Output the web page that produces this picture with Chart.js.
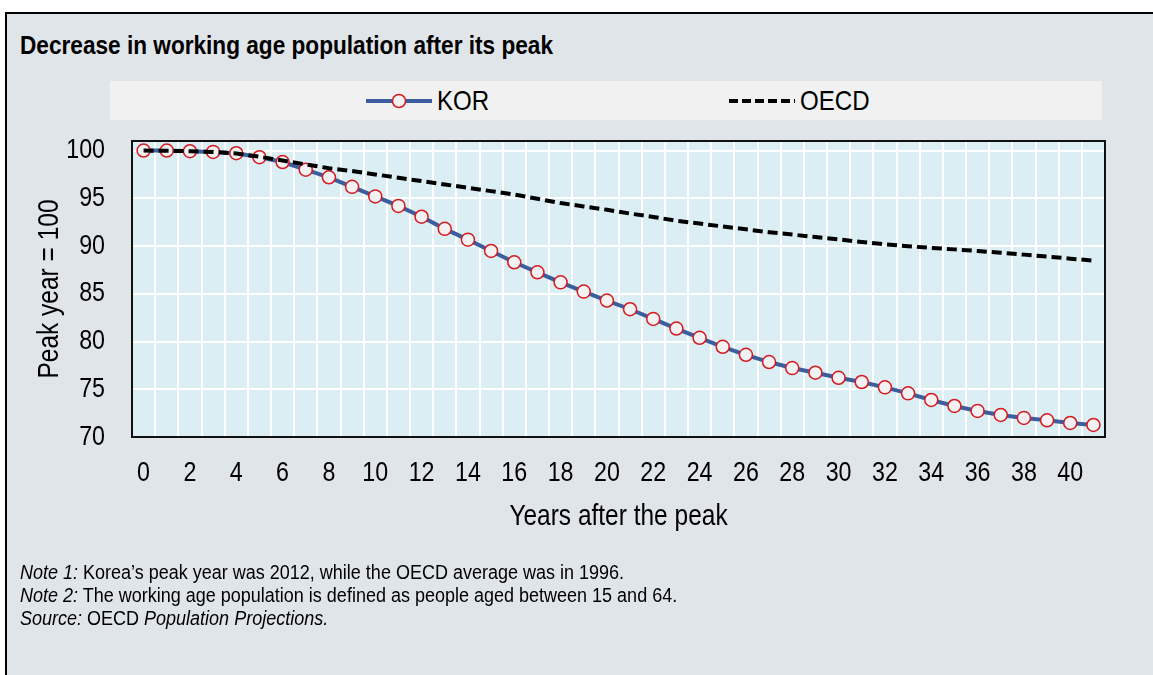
<!DOCTYPE html>
<html>
<head>
<meta charset="utf-8">
<script src="https://cdn.jsdelivr.net/npm/chart.js@4.4.1/dist/chart.umd.min.js"></script>
<style>
  html, body { margin: 0; padding: 0; background: #ffffff; }
  body { width: 1153px; height: 675px; position: relative; overflow: hidden;
         font-family: "Liberation Sans", Arial, sans-serif; }
  .panel { position: absolute; left: 5px; top: 12px; width: 1148px; height: 663px;
           background: #e0e5e9; border-left: 2px solid #000; border-top: 2px solid #000; box-sizing: border-box; }
  .narrow { display: inline-block; transform-origin: 0 50%; white-space: nowrap; }
  .title { position: absolute; left: 20px; top: 31px; font-weight: bold; font-size: 26px; line-height: 28px; color: #000; }
  .title .narrow { transform: scaleX(0.87); }
  .legend { position: absolute; left: 110px; top: 81px; width: 992px; height: 39px; background: #f1f1f1; }
  .item { position: absolute; top: 0; height: 39px; display: flex; align-items: center; font-size: 28px; color: #000; white-space: nowrap; }
  .item svg { display: block; margin-right: 5px; }
  .item .narrow { transform: scaleX(0.86); }
  .notes { position: absolute; left: 20px; top: 561px; font-size: 20px; line-height: 23px; color: #000; }
  .notes .narrow { display: block; transform: scaleX(0.9); }
  #wrap { position: absolute; left: 0; top: 0; width: 1153px; height: 675px; }
</style>
</head>
<body>
<div class="panel"></div>
<div class="title"><span class="narrow">Decrease in working age population after its peak</span></div>
<div class="legend">
  <div class="item" style="left:256px;">
    <svg width="66" height="20" viewBox="0 0 66 20">
      <line x1="0" y1="10" x2="66" y2="10" stroke="#3c5e9e" stroke-width="4"/>
      <circle cx="33" cy="10" r="6.5" fill="#f2f2f2" stroke="#d71920" stroke-width="1.5"/>
    </svg><span class="narrow">KOR</span></div>
  <div class="item" style="left:619px;">
    <svg width="66" height="20" viewBox="0 0 66 20">
      <line x1="0" y1="10" x2="66" y2="10" stroke="#000" stroke-width="4" stroke-dasharray="9 4"/>
    </svg><span class="narrow">OECD</span></div>
</div>
<div id="wrap"><canvas id="chart" width="1153" height="675"></canvas></div>
<div class="notes">
  <span class="narrow"><i>Note 1:</i> Korea’s peak year was 2012, while the OECD average was in 1996.</span>
  <span class="narrow"><i>Note 2:</i> The working age population is defined as people aged between 15 and 64.</span>
  <span class="narrow"><i>Source:</i> OECD <i>Population Projections.</i></span>
</div>
<script>
// Years after the peak of the working-age population
const years = ['0','1','2','3','4','5','6','7','8','9','10','11','12','13','14','15','16','17','18','19','20',
               '21','22','23','24','25','26','27','28','29','30','31','32','33','34','35','36','37','38','39','40','41'];

// Working-age population index, peak year = 100
const kor = [100, 100, 99.93, 99.86, 99.72, 99.3, 98.8, 98.0, 97.2, 96.2, 95.2,
             94.2, 93.07, 91.8, 90.67, 89.48, 88.3, 87.25, 86.2, 85.23, 84.29,
             83.38, 82.37, 81.36, 80.39, 79.45, 78.61, 77.85, 77.22, 76.73, 76.2,
             75.76, 75.2, 74.57, 73.88, 73.25, 72.73, 72.31, 72.0, 71.75, 71.47, 71.26];

const oecd = [100, 99.98, 99.93, 99.85, 99.7, 99.35, 98.95, 98.55, 98.15, 97.85, 97.5,
              97.15, 96.8, 96.45, 96.1, 95.75, 95.4, 94.95, 94.5, 94.15, 93.8,
              93.4, 93.05, 92.65, 92.35, 92.05, 91.75, 91.45, 91.2, 90.95, 90.7,
              90.42, 90.17, 89.98, 89.8, 89.65, 89.48, 89.3, 89.1, 88.9, 88.68, 88.47];

// Only every other year gets a label on the horizontal axis
const xTickStep = 2;

const FONT = '"Liberation Sans", Arial, sans-serif';

// Axis text is set in a condensed face: squeeze each glyph run horizontally
// around its anchor point so alignment (left/center/right) is preserved.
const canvas = document.getElementById('chart');
const ctx2d = canvas.getContext('2d');
const plainFillText = ctx2d.fillText.bind(ctx2d);
ctx2d.fillText = function (text, x, y) {
  this.save();
  this.translate(x, y);
  this.scale(0.83, 1);
  plainFillText(text, 0, 0);
  this.restore();
};

// Light-blue plot background and black frame around the plotting area
const plotFrame = {
  id: 'plotFrame',
  beforeDraw(chart) {
    const {ctx, chartArea: a} = chart;
    ctx.save();
    ctx.fillStyle = '#daeef4';
    ctx.fillRect(a.left, a.top, a.right - a.left, a.bottom - a.top);
    ctx.restore();
  },
  beforeDatasetsDraw(chart) {
    const {ctx, chartArea: a} = chart;
    ctx.save();
    ctx.strokeStyle = '#111';
    ctx.lineWidth = 2;
    ctx.strokeRect(a.left, a.top, a.right - a.left, a.bottom - a.top);
    ctx.restore();
  }
};

new Chart(canvas, {
  type: 'line',
  data: {
    labels: years,
    datasets: [
      {
        label: 'KOR',
        data: kor,
        order: 1,
        borderColor: '#3c5e9e',
        borderWidth: 4,
        tension: 0,
        pointRadius: 6.5,
        pointHoverRadius: 6.5,
        pointBackgroundColor: '#f2f2f2',
        pointBorderColor: '#d71920',
        pointBorderWidth: 1.5
      },
      {
        label: 'OECD',
        data: oecd,
        order: 0,
        borderColor: '#000',
        borderWidth: 4,
        borderDash: [10, 5],
        tension: 0,
        pointRadius: 0,
        pointHoverRadius: 0
      }
    ]
  },
  options: {
    responsive: false,
    animation: false,
    events: [],
    layout: { padding: { left: 0, top: 141, right: 48, bottom: 128 } },
    plugins: { legend: { display: false }, tooltip: { enabled: false } },
    scales: {
      x: {
        offset: true,
        grid: { offset: true, color: '#ffffff', lineWidth: 2, drawTicks: false },
        border: { display: false },
        ticks: {
          autoSkip: false, maxRotation: 0, minRotation: 0, padding: 19,
          color: '#000', font: { family: FONT, size: 28 },
          callback: (v, i) => (i % xTickStep === 0 ? years[i] : '')
        },
        title: { display: true, text: 'Years after the peak', color: '#000',
                 font: { family: FONT, size: 29.5 }, padding: { top: 0, bottom: 12 } },
        afterFit: (s) => { s.height = 110; }
      },
      y: {
        min: 70, max: 101,
        grid: { color: '#ffffff', lineWidth: 2, drawTicks: false },
        border: { display: false },
        ticks: { stepSize: 5, includeBounds: false, padding: 27, color: '#000',
                 font: { family: FONT, size: 28 } },
        title: { display: true, text: 'Peak year = 100', color: '#000',
                 font: { family: FONT, size: 29.5 }, padding: { top: 32, bottom: 0 } },
        afterFit: (s) => { s.width = 132; }
      }
    }
  },
  plugins: [plotFrame]
});
</script>
</body>
</html>
